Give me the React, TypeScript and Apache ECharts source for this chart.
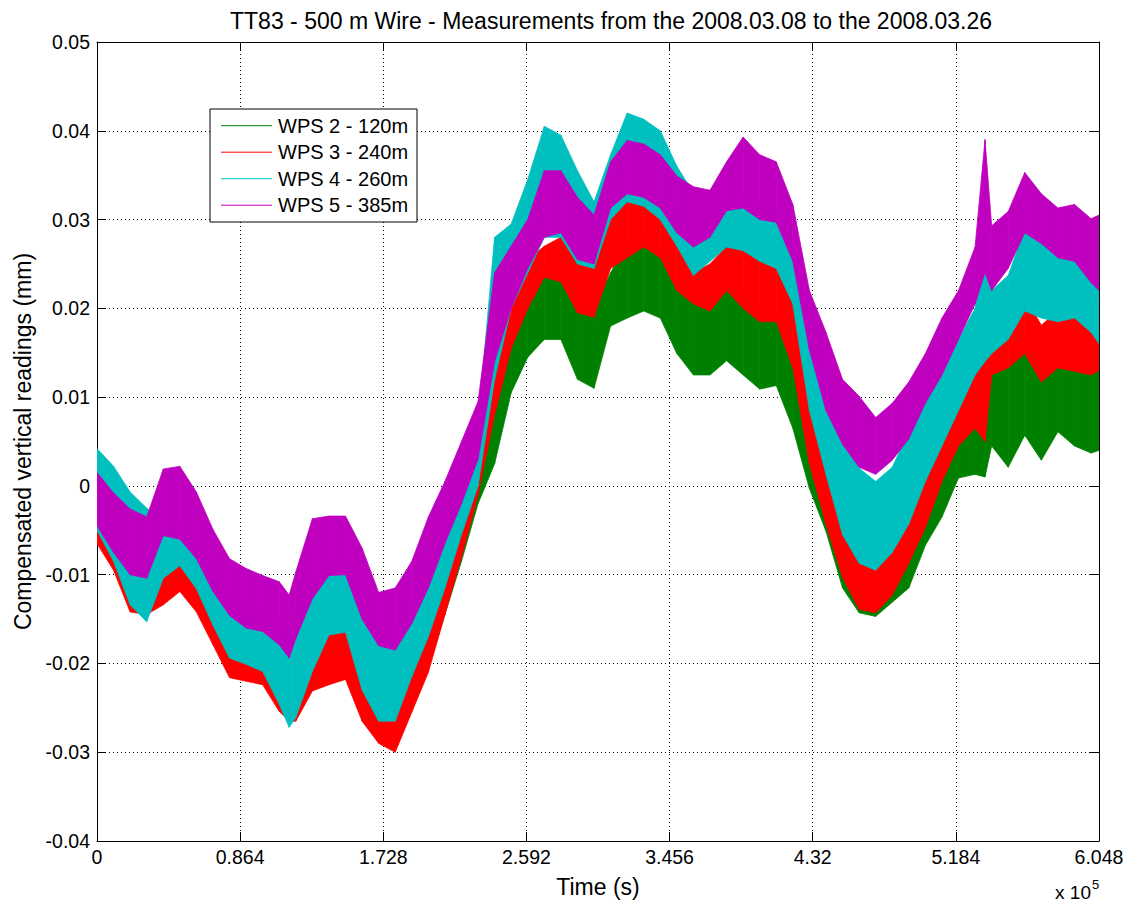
import React, { useEffect, useRef } from "react";
import * as echarts from "echarts";

// Sample times (s)
const timeSeconds = [
  0, 10000, 20000, 30000, 40000, 50000, 60000, 70000, 80000, 90000,
  100000, 110000, 116000, 120000, 130000, 140000, 150000, 160000, 170000, 180000, 190000,
  200000, 210000, 220000, 230000, 240000, 250000, 260000, 270000, 280000, 290000,
  300000, 310000, 320000, 330000, 340000, 350000, 360000, 370000, 380000, 390000,
  400000, 410000, 420000, 430000, 440000, 450000, 460000, 470000, 480000, 490000,
  500000, 510000, 520000, 530000, 536000, 540000, 550000, 560000, 570000, 580000, 590000,
  600000, 604800,
];

// Envelope values (upper / lower edge of each noisy trace), in thousandths of a mm
const UNIT_MM = 0.001;

const wps2High = [
  -1.5, -5, -9, -11, -8.5, -8.5, -9.5, -13.5, -16.5, -17.5,
  -18.5, -20.5, -21.5, -20.5, -16.5, -14.5, -14.5, -18.5, -22.5, -22.5, -18.5,
  -13.5, -8.5, -3, 3, 14, 18, 22, 24, 28, 21,
  20, 24, 27.3, 28.5, 26.9, 22.5, 21.3, 19.7, 22, 22,
  20, 19, 16, 6, -1, -7, -9, -10, -8, -4,
  0, 4, 8, 10, 12, 14.1, 13.3, 16.5, 15, 15.7, 14.9,
  13.3, 13,
];
const wps2Low = [
  -6, -9, -13.5, -14, -13, -11.5, -13.5, -17.5, -21, -21.5,
  -22, -25, -26.5, -26, -22.5, -22, -21.5, -26, -28.5, -29.5, -25,
  -20.5, -14.5, -8.5, -2, 2.5, 10.5, 14.5, 16.5, 16.5, 12,
  11, 18, 18.9, 19.7, 18.9, 14.9, 12.5, 12.5, 14.1, 12.5,
  10.9, 11.3, 6.5, -0.3, -5.1, -11.5, -14.3, -14.7, -13.1, -11.5,
  -6.7, -3.5, 0.9, 1.3, 1, 4.5, 2.1, 5.7, 2.9, 6.1, 4.5,
  3.7, 4,
];

const wps3High = [
  -1, -4, -8, -10, -7, -7, -8, -12, -15, -16,
  -17, -19, -20, -19, -15, -13, -13, -17, -21, -21, -17,
  -12, -7, -2, 5, 21, 22, 25.5, 27, 28, 25.5,
  25, 31.3, 32.9, 32.5, 31.3, 28.5, 24, 25, 27, 27,
  26, 25, 21, 12, 4, -3, -6, -8, -5, -1,
  4, 6.1, 12, 13, 16, 18.9, 19.7, 21.3, 18.1, 19.7, 19,
  20.5, 20,
];
const wps3Low = [
  -6.5, -9.5, -14.2, -14.5, -13.4, -11.9, -14.2, -17.9, -21.6, -22,
  -22.4, -25.4, -26.5, -26.5, -23.1, -22.4, -21.8, -26.5, -29, -30, -25.5,
  -21, -14.5, -8, -1, 8, 15.5, 20, 23.5, 23, 19.5,
  19, 24.5, 25.7, 26.9, 25.7, 22, 20.5, 19.7, 22, 20,
  18.5, 18.5, 13.3, 2.5, -4.3, -10.3, -13.9, -14.3, -12.3, -8.7,
  -4.7, 0.5, 4.5, 6.5, 5, 12.5, 13.3, 14.9, 11.7, 13.3, 12.9,
  12.5, 13,
];

const wps4High = [
  4.2, 2.2, -0.7, -2.5, -4, -4, -6, -9, -12, -13,
  -14, -15, -16, -14, -10, -8, -8, -12, -16, -16, -13,
  -8, -4, 1, 7, 28, 29.5, 34.5, 40.5, 39.5, 35.5,
  32, 37.3, 42, 41.3, 40, 36, 33, 31, 33, 33,
  32, 31, 27, 18, 12, 6, 2, 0.5, 2.1, 6.1,
  10.9, 12.5, 16.5, 20, 37, 22, 23.7, 28.9, 27.3, 26.1, 25.3,
  24, 24,
];
const wps4Low = [
  -5, -8.5, -13.4, -15.3, -10.4, -9, -11.6, -15.7, -19.4, -20.1,
  -20.9, -24.6, -27.2, -26.1, -20.9, -16.8, -16.5, -23, -26.5, -26.5, -21.5,
  -17, -11.5, -5.5, 0, 12, 20, 24, 28, 28, 25,
  24.5, 30, 32, 31.5, 30, 27, 23.7, 25.3, 26.9, 26.5,
  25.3, 24.5, 20.5, 8.5, 1.3, -5.5, -8.7, -9.5, -7.5, -4.3,
  0.5, 4.5, 8.5, 12.5, 14, 14.9, 16.5, 19.7, 18.9, 18.5, 18.9,
  17.3, 16,
];

const wps5High = [
  1.5, -0.8, -2.6, -3.5, 1.9, 2.2, -0.7, -4.9, -8.2, -9.3,
  -10.1, -10.8, -12.3, -9.7, -3.7, -3.4, -3.4, -7, -12, -11.5, -8.5,
  -3.5, 0.5, 5, 9.5, 24, 27, 30, 35.5, 35.5, 32.5,
  30.5, 36.5, 38.9, 38.5, 37.3, 34.9, 33.7, 33.3, 36.5, 39.3,
  37.3, 36.5, 31.7, 22, 17.3, 12, 10.1, 7.7, 9.3, 11.7,
  14.9, 18.9, 22, 26.9, 39, 29.3, 30.9, 35.3, 32.9, 31.3, 31.7,
  30.1, 30.5,
];
const wps5Low = [
  -4.5, -7.5, -10, -10.4, -5.6, -6, -8.2, -11.9, -14.6, -16,
  -16.4, -17.9, -19.4, -17.2, -12.7, -10.1, -10, -15, -18, -18.5, -15.5,
  -11.5, -6.5, -2, 3, 14, 20, 24.5, 28, 28.5, 25.5,
  25, 31.3, 32.9, 32.5, 31.3, 28.5, 26.9, 28, 31, 31.3,
  30, 29.7, 25.3, 15.3, 8.5, 4.7, 2.1, 1.3, 2.9, 5.3,
  9.3, 12.5, 16.5, 20.5, 24, 22, 24.5, 28.5, 27.3, 25.7, 25.3,
  22.9, 22,
];

const seriesNames = ["WPS 2 - 120m", "WPS 3 - 240m", "WPS 4 - 260m", "WPS 5 - 385m"];
const seriesColors = ["#008000", "#ff0000", "#00bfbf", "#bf00bf"];
const seriesHigh = [wps2High, wps3High, wps4High, wps5High];
const seriesLow = [wps2Low, wps3Low, wps4Low, wps5Low];

const TITLE = "TT83 - 500 m Wire - Measurements from the 2008.03.08 to the 2008.03.26";
const X_NAME = "Time (s)";
const Y_NAME = "Compensated vertical readings (mm)";
const X_MIN = 0;
const X_MAX = 604800;
const X_STEP = 86400;
const X_SCALE = 1e5;
const Y_MIN = -0.04;
const Y_MAX = 0.05;
const Y_STEP = 0.01;

const FONT = "'Liberation Sans', Arial, Helvetica, sans-serif";

export default function App() {
  const ref = useRef<HTMLDivElement>(null);

  useEffect(() => {
    document.body.style.margin = "0";
    if (!ref.current) return;
    const chart = echarts.init(ref.current, null, { renderer: "svg" });

    const grid = { left: 97, right: 29, top: 42, bottom: 60 };

    const bandSeries = seriesNames.map((name, k) => {
      const hi = seriesHigh[k];
      const lo = seriesLow[k];
      const color = seriesColors[k];
      const data = timeSeconds.map((t, i) => [t, lo[i] * UNIT_MM, hi[i] * UNIT_MM]);
      return {
        type: "custom",
        name,
        silent: true,
        clip: true,
        itemStyle: { color, borderWidth: 0 },
        encode: { x: 0, y: [1, 2] },
        data,
        renderItem: (params: any, api: any) => {
          const i = params.dataIndex;
          if (i >= data.length - 1) return { type: "group", children: [] };
          const a = data[i];
          const b = data[i + 1];
          const p1 = api.coord([a[0], a[2]]);
          const p2 = api.coord([b[0], b[2]]);
          const p3 = api.coord([b[0], b[1]]);
          const p4 = api.coord([a[0], a[1]]);
          return {
            type: "polygon",
            shape: { points: [p1, p2, p3, p4] },
            style: { fill: color, stroke: color, lineWidth: 0.8 },
          };
        },
      };
    });

    // Legend drawn as a boxed set of elements (MATLAB style)
    const LEG_X = 210;
    const LEG_Y = 109;
    const LEG_W = 207;
    const LEG_H = 113;
    const ROW0 = 16.7;
    const ROW_STEP = 26.5;
    const legendElements: any[] = [
      {
        type: "rect",
        id: "legend-box",
        z: 100,
        shape: { x: LEG_X, y: LEG_Y, width: LEG_W, height: LEG_H },
        style: { fill: "#fff", stroke: "#000", lineWidth: 1 },
      },
    ];
    seriesNames.forEach((name, k) => {
      const y = LEG_Y + ROW0 + k * ROW_STEP;
      legendElements.push({
        type: "line",
        id: "legend-line-" + k,
        z: 101,
        shape: { x1: LEG_X + 11, y1: y, x2: LEG_X + 62, y2: y },
        style: { stroke: seriesColors[k], lineWidth: 1 },
      });
      legendElements.push({
        type: "text",
        id: "legend-text-" + k,
        z: 101,
        x: LEG_X + 68,
        y,
        style: {
          text: name,
          fontFamily: FONT,
          fontSize: 20,
          fill: "#000",
          align: "left",
          verticalAlign: "middle",
        },
      });
    });

    const axisCommonX = {
      type: "value",
      min: X_MIN,
      max: X_MAX,
      interval: X_STEP,
      axisLine: { show: true, onZero: false, lineStyle: { color: "#000", width: 1 } },
      axisTick: { show: true, inside: true, length: 9, lineStyle: { color: "#000" } },
    };
    const axisCommonY = {
      type: "value",
      min: Y_MIN,
      max: Y_MAX,
      interval: Y_STEP,
      axisLine: { show: true, onZero: false, lineStyle: { color: "#000", width: 1 } },
      axisTick: { show: true, inside: true, length: 9, lineStyle: { color: "#000" } },
    };

    chart.setOption({
      animation: false,
      backgroundColor: "#fff",
      textStyle: { fontFamily: FONT },
      title: {
        text: TITLE,
        left: 606,
        top: 4,
        textAlign: "center",
        textStyle: { fontFamily: FONT, fontSize: 23, fontWeight: "normal", color: "#000" },
      },
      grid,
      xAxis: [
        {
          ...axisCommonX,
          position: "bottom",
          name: X_NAME,
          nameLocation: "middle",
          nameGap: 34,
          nameTextStyle: { fontFamily: FONT, fontSize: 23, color: "#000" },
          axisLabel: {
            show: true,
            color: "#000",
            fontFamily: FONT,
            fontSize: 19.5,
            margin: 6,
            formatter: (v: number) => String(parseFloat((v / X_SCALE).toFixed(3))),
          },
          splitLine: { show: true, lineStyle: { color: "#000", type: [1, 3], width: 1 } },
        },
        {
          ...axisCommonX,
          position: "top",
          axisLabel: { show: false },
          splitLine: { show: false },
        },
      ],
      yAxis: [
        {
          ...axisCommonY,
          position: "left",
          name: Y_NAME,
          nameLocation: "middle",
          nameGap: 58,
          nameRotate: 90,
          nameTextStyle: { fontFamily: FONT, fontSize: 23, color: "#000" },
          axisLabel: {
            show: true,
            color: "#000",
            fontFamily: FONT,
            fontSize: 19.5,
            margin: 7,
            formatter: (v: number) => String(parseFloat(v.toFixed(2))),
          },
          splitLine: { show: true, lineStyle: { color: "#000", type: [1, 3], width: 1 } },
        },
        {
          ...axisCommonY,
          position: "right",
          axisLabel: { show: false },
          splitLine: { show: false },
        },
      ],
      graphic: [
        ...legendElements,
        {
          type: "text",
          id: "exp-base",
          x: 1091,
          y: 892,
          style: {
            text: "x 10",
            fontFamily: FONT,
            fontSize: 19,
            fill: "#000",
            align: "right",
            verticalAlign: "middle",
          },
        },
        {
          type: "text",
          id: "exp-power",
          x: 1092,
          y: 884,
          style: {
            text: "5",
            fontFamily: FONT,
            fontSize: 13,
            fill: "#000",
            align: "left",
            verticalAlign: "middle",
          },
        },
      ],
      series: bandSeries,
    });

    return () => chart.dispose();
  }, []);

  return <div ref={ref} style={{ width: 1128, height: 903 }} />;
}
